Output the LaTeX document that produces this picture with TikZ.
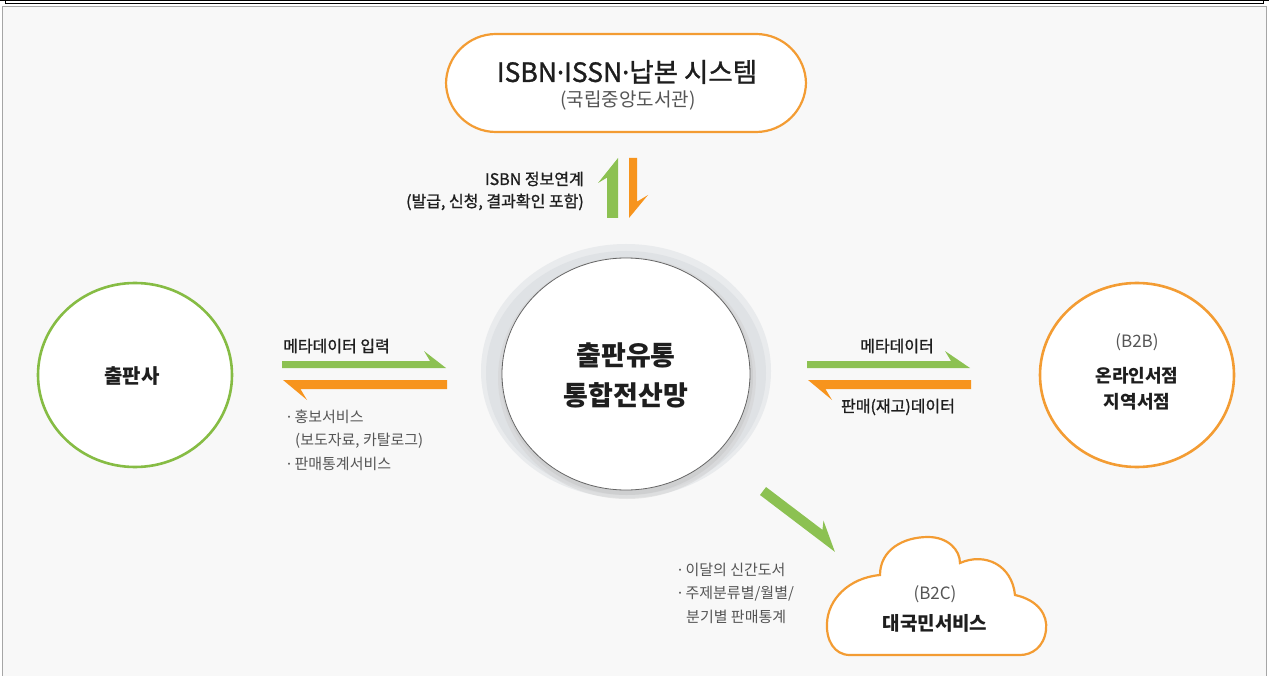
\documentclass[tikz,border=0pt]{standalone}
\usepackage{fontspec}
\usetikzlibrary{shapes.geometric}
\setmainfont{Noto Sans CJK KR}
\newfontfamily\krm[FakeBold=1.2]{Noto Sans CJK KR}
\newfontfamily\latf{Noto Sans}
\newfontfamily\latfm[FakeBold=1.2]{Noto Sans}
\definecolor{bgc}{HTML}{F8F8F8}
\definecolor{grn}{HTML}{8CC152}
\definecolor{org}{HTML}{F7941D}
\definecolor{orgline}{HTML}{F39C33}
\definecolor{grnline}{HTML}{86BC44}
\definecolor{txt}{HTML}{1E1E1E}
\definecolor{txtg}{HTML}{555555}
\definecolor{ring}{HTML}{DFE2E5}
\newcommand\harp[7]{\fill[#7, shift={#1}, rotate=#2] (0,0) -- (#3,0) -- ({#3-#5},{-#6}) -- ({#3-#5+0.6*(#6-#4)},{-#4}) -- (0,{-#4}) -- cycle;}
\newcommand\md{{\latf ·}}
\newcommand\mdm{{\latfm ·}}
\tikzset{
  fs/.style={font=\fontsize{#1}{#1}\selectfont},
  fsm/.style={font=\fontsize{#1}{#1}\selectfont\krm},
  lbl/.style={text=txt, inner sep=0pt},
  lblg/.style={text=txtg, inner sep=0pt},
}
\begin{document}
\begin{tikzpicture}[x=1pt,y=-1pt]
\useasboundingbox (0,0) rectangle (1269,676);
% frame
\fill[bgc] (2,6) rectangle (1267,676);
\draw[gray!70, line width=1pt] (2.5,676) -- (2.5,6.5) -- (1266.5,6.5) -- (1266.5,676);
\draw[black, line width=1pt] (0,0.5) -- (1269,0.5);
\draw[black, line width=1pt] (5.5,-3) rectangle (1263.5,3.5);

% top pill
\node[draw=orgline, line width=2.2pt, fill=white, rounded corners=50pt, minimum width=360pt, minimum height=98pt, inner sep=0pt] (isbn) at (626,83) {};
\node[lbl, fsm=26.5] (isbnt) at (627,72) {ISBN\mdm ISSN\mdm 납본 시스템};
\node[lblg, fs=19] (isbns) at (628,101) {(국립중앙도서관)};

% center ring
\fill[ring!70] (626,371) ellipse [x radius=145pt, y radius=127pt];
\fill[ring] (626,373) ellipse [x radius=140pt, y radius=122pt];
\fill[gray!35, opacity=0.5] (627,378) ellipse [x radius=129pt, y radius=121pt];
\fill[gray!45, opacity=0.5] (627,377) ellipse [x radius=126pt, y radius=118pt];
\node[draw=gray!80!black, line width=0.8pt, fill=white, ellipse, minimum width=248pt, minimum height=232pt, inner sep=0pt] (hub) at (626,374) {};
\node[lbl, font=\bfseries] (hubt1) at (626,355) {\fontsize{27}{27}\selectfont 출판유통};
\node[lbl, font=\bfseries] (hubt2) at (626,395) {\fontsize{27}{27}\selectfont 통합전산망};

% left circle
\node[draw=grnline, line width=2.6pt, fill=white, ellipse, minimum width=194pt, minimum height=184pt, inner sep=0pt] (pub) at (135,375) {};
\node[lbl, font=\bfseries] (pubt) at (132,376) {\fontsize{20}{20}\selectfont 출판사};

% right circle
\node[draw=orgline, line width=2.6pt, fill=white, ellipse, minimum width=194pt, minimum height=184pt, inner sep=0pt] (b2b) at (1137,375) {};
\node[lblg, fs=17] (b2bt0) at (1137,342) {(B2B)};
\node[lbl, font=\bfseries] (b2bt1) at (1137,376) {\fontsize{18}{18}\selectfont 온라인서점};
\node[lbl, font=\bfseries] (b2bt2) at (1137,402) {\fontsize{18}{18}\selectfont 지역서점};

% cloud
\draw[orgline, line width=2.2pt, fill=white]
  (850,655) .. controls (834,655) and (826,640) .. (827,623)
  .. controls (828,600) and (848,578) .. (880,575)
  .. controls (880,550) and (903,537) .. (928,537)
  .. controls (948,537) and (960,550) .. (960,563)
  .. controls (985,552) and (1012,565) .. (1015,595)
  .. controls (1038,600) and (1048,615) .. (1046,630)
  .. controls (1044,647) and (1032,655) .. (1020,655)
  -- cycle;
\node[lblg, fs=17] (b2ct0) at (935,594) {(B2C)};
\node[lbl, font=\bfseries] (b2ct1) at (935,623) {\fontsize{19}{19}\selectfont 대국민서비스};

% arrows
\harp{(618,218)}{90}{60}{11}{25}{20}{grn}
\harp{(629,158)}{-90}{60}{8}{23}{19}{org}
\harp{(282,368)}{0}{164}{7}{22}{17}{grn}
\harp{(447,380)}{180}{164}{9}{24}{20}{org}
\harp{(807,368)}{0}{163}{7}{25}{17}{grn}
\harp{(971,380)}{180}{163}{9}{24}{20}{org}
\harp{(760,495)}{-37.2}{94}{10}{28}{18}{grn}

% labels
\node[lbl, fsm=16, anchor=east] (isbnl1) at (584,179) {ISBN 정보연계};
\node[lbl, fsm=16, anchor=east] (isbnl2) at (584,202) {(발급, 신청, 결과확인 포함)};

\node[lbl, fsm=16, anchor=west] (meta1) at (283,346) {메타데이터 입력};
\node[lblg, fs=15, anchor=west] (l1) at (287,417) {\md\ 홍보서비스};
\node[lblg, fs=15, anchor=west] (l2) at (295,441) {(보도자료, 카탈로그)};
\node[lblg, fs=15, anchor=west] (l3) at (287,464) {\md\ 판매통계서비스};

\node[lbl, fsm=16] (meta2) at (897,346) {메타데이터};
\node[lbl, fsm=16] (sale) at (898,407) {판매(재고)데이터};

\node[lblg, fs=15, anchor=west] (c1) at (678,570) {\md\ 이달의 신간도서};
\node[lblg, fs=15, anchor=west] (c2) at (678,594) {\md\ 주제분류별/월별/};
\node[lblg, fs=15, anchor=west] (c3) at (686,617) {분기별 판매통계};
\end{tikzpicture}
\end{document}
